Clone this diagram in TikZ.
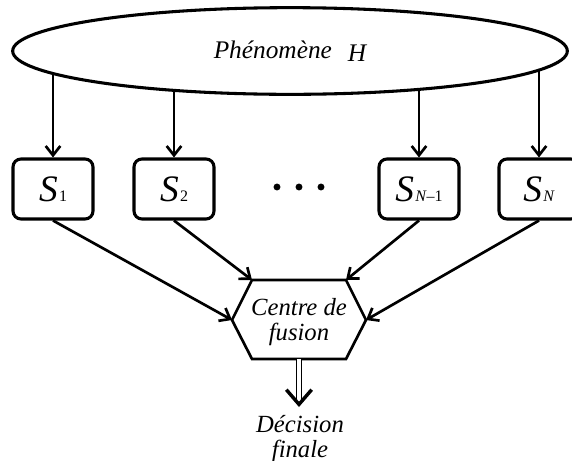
\documentclass[tikz,border=0pt]{standalone}
\usepackage{fontspec}
\setmainfont{Liberation Serif}
\usetikzlibrary{arrows.meta,backgrounds,shapes.geometric}

\tikzset{
  capteur/.style={draw, line width=2.3pt, rounded corners=6pt, minimum width=60pt,
    minimum height=45pt, inner sep=0pt},
  fleche/.style={line width=2pt, -{Straight Barb[length=7pt,width=11pt]}},
  texte/.style={font=\fontsize{18.5}{18.5}\selectfont\itshape, align=center, inner sep=0pt},
}
\newcommand{\capteurS}[1]{{\fontsize{28}{28}\selectfont\itshape S}\kern1pt{\fontsize{12}{12}\selectfont #1}}

\begin{document}
\begin{tikzpicture}[x=0.75pt,y=-0.75pt]
  \useasboundingbox (0,0) rectangle (572,461);

  % phenomene observe
  \node[ellipse, draw, fill=white, line width=2.3pt, minimum width=416pt,
        minimum height=65pt, font=\fontsize{19}{20}\selectfont\itshape] (ph) at (290,51)
        {Phénomène\hspace{12pt}\raisebox{-2pt}{H}};

  % capteurs S_1 ... S_N
  \node[capteur] (s1)  at (53,189)  {\capteurS{1}};
  \node[capteur] (s2)  at (174,189) {\capteurS{2}};
  \node[capteur] (sn1) at (419,189) {\capteurS{\textit{N}–1}};
  \node[capteur] (sn)  at (539,189) {\capteurS{\textit{N}}};

  % points de suspension
  \foreach \x in {277,299,321}
    \fill (\x,187) circle (2.6pt);

  % fleches phenomene -> capteurs (sous l'ellipse)
  \begin{scope}[on background layer]
    \foreach \s in {s1,s2,sn1,sn}
      \draw[fleche] (\s.north |- ph.center) -- (\s.north);
  \end{scope}

  % centre de fusion (hexagone)
  \node[texte] (fus) at (299,322) {Centre de\\fusion};
  \coordinate (h1) at (252,280);
  \coordinate (h2) at (346,280);
  \coordinate (h3) at (366,320);
  \coordinate (h4) at (346,359);
  \coordinate (h5) at (252,359);
  \coordinate (h6) at (232,320);
  \draw[line width=2pt, line join=miter] (h1) -- (h2) -- (h3) -- (h4) -- (h5) -- (h6) -- cycle;

  % capteurs -> centre de fusion
  \draw[fleche] (s1.south)  -- (h6);
  \draw[fleche] (s2.south)  -- (h1);
  \draw[fleche] (sn1.south) -- (h2);
  \draw[fleche] (sn.south)  -- (h3);

  % decision finale
  \node[texte] (dec) at (300,439) {Décision\\finale};
  \coordinate (hb) at (299,359);
  \coordinate (pointe) at (299,407);
  \draw[line width=1.2pt, double distance=2.4pt,
        -{Straight Barb[length=11pt,width=19pt,line width=2.6pt]}] (hb) -- (pointe);
\end{tikzpicture}
\end{document}
